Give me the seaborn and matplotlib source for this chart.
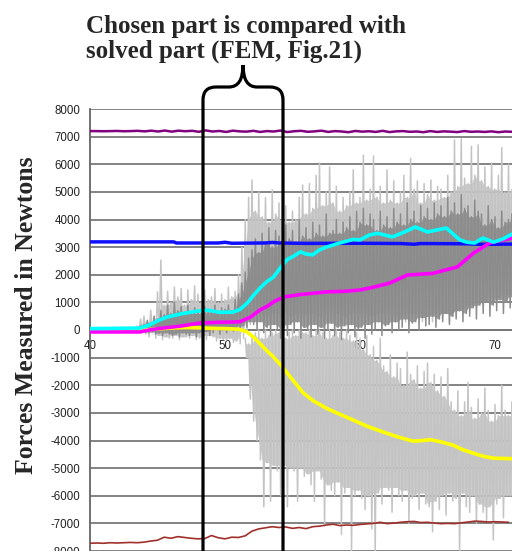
import numpy as np
import matplotlib
matplotlib.use('Agg')
import matplotlib.pyplot as plt
import matplotlib.transforms as mtransforms
from matplotlib.path import Path
from matplotlib.patches import PathPatch
import seaborn as sns

# ---- smooth / slow signals (x in the units of the horizontal axis) ----
purple_y = [7200, 7200, 7195, 7200, 7205, 7195, 7200, 7210, 7190, 7215, 7185, 7220,
            7180, 7215, 7195, 7210, 7175, 7225, 7185, 7205, 7170, 7215, 7190, 7180,
            7210, 7170, 7200, 7185, 7220, 7165, 7195, 7210, 7175, 7190, 7215, 7170,
            7200, 7185, 7160, 7205, 7180, 7195, 7170, 7210, 7165, 7190, 7200, 7175,
            7185, 7160, 7200, 7170, 7190, 7180, 7165, 7200, 7175, 7185, 7170, 7190,
            7160, 7185, 7175]

darkred_y = [-7720, -7710, -7720, -7700, -7710, -7700, -7690, -7700, -7680, -7640,
             -7610, -7500, -7540, -7480, -7510, -7540, -7560, -7550, -7440, -7520,
             -7560, -7500, -7510, -7450, -7280, -7200, -7160, -7120, -7150, -7130,
             -7180, -7150, -7190, -7120, -7100, -7060, -7030, -7080, -7060, -7070,
             -7040, -7020, -7000, -6960, -7010, -6990, -6960, -6940, -6930, -6970,
             -6960, -6990, -7010, -7000, -7010, -6980, -6950, -6920, -6930, -6950,
             -6940, -6950, -6960]

blue_x = [40, 46.2, 46.4, 49.5, 50.0, 50.5, 53.0, 53.5, 54.0, 56.0, 60.0, 63.0,
          64.0, 64.5, 68.0, 69.0, 71.3]
blue_y = [3190, 3190, 3150, 3150, 3175, 3140, 3150, 3170, 3150, 3135, 3140, 3130,
          3105, 3130, 3120, 3100, 3110]

cyan_x = [40, 43.7, 44.4, 45.0, 45.7, 46.9, 47.9, 48.7, 49.6, 50.6, 51.1, 51.7,
          52.1, 52.6, 53.1, 53.6, 54.1, 54.6, 55.0, 55.6, 56.0, 56.5, 57.0, 57.5,
          58.5, 59.5, 60.0, 60.7, 61.3, 62.4, 63.3, 64.1, 65.0, 66.4, 67.4, 67.9,
          68.5, 69.1, 69.9, 70.6, 71.3]
cyan_y = [50, 70, 180, 330, 470, 600, 680, 720, 640, 650, 740, 1000,
          1250, 1520, 1750, 1920, 2250, 2550, 2650, 2830, 2750, 2720, 2900, 3000,
          3150, 3280, 3260, 3440, 3500, 3370, 3550, 3730, 3550, 3690, 3260, 3180,
          3150, 3330, 3180, 3300, 3480]

magenta_x = [40, 43.7, 44.4, 45.2, 46.7, 48.1, 49.5, 50.6, 51.1, 51.9, 52.6, 53.1,
             53.7, 54.4, 55.5, 56.5, 57.5, 58.9, 60.0, 61.0, 62.2, 63.5, 65.4, 66.3,
             67.2, 68.4, 69.6, 70.5, 71.3]
magenta_y = [-70, -70, 0, 60, 140, 250, 280, 290, 300, 470, 730, 850,
             1050, 1200, 1280, 1330, 1380, 1400, 1450, 1550, 1700, 1990, 2050, 2170,
             2280, 2780, 3150, 3250, 3330]

yellow_x = [40, 44, 45, 46, 47, 48, 49, 50, 51, 51.6, 52.1, 52.6, 53.1, 53.6,
            54.1, 54.6, 55.0, 55.8, 56.5, 57.5, 58.5, 59.5, 60.5, 61.7, 62.8, 63.9,
            64.5, 65.2, 66.0, 66.9, 67.6, 68.4, 69.2, 69.9, 71.3]
yellow_y = [0, 0, 40, 70, 90, 80, 60, 50, 30, -60, -250, -500, -750, -980,
            -1250, -1550, -1800, -2280, -2550, -2830, -3050, -3260, -3480, -3690,
            -3870, -4020, -4010, -3970, -4050, -4170, -4330, -4460, -4580, -4640,
            -4660]

# ---- noisy grey signals: extremes read every 0.25 from x = 43.5 ----
dark_hi = [80, 150,
           200, 350, 250, 500,   400, 700, 550, 900,   600, 1000, 700, 850,
           650, 900, 600, 800,   700, 600, 850, 650,   700, 900, 650, 800,
           750, 900, 700, 1100,  1300, 1700, 2100, 2600, 2900, 3300, 2800, 3500,
           3200, 3700, 3000, 3600, 3400, 3100, 3800, 3300, 3600, 3200, 4000, 3400,
           3700, 3300, 3900, 3500, 3800, 3400, 4200, 3500, 3600, 4000, 3500, 3900,
           3700, 4100, 3600, 4300, 3900, 4400, 3800, 4200, 4000, 3600, 4300, 3800,
           4100, 3700, 4400, 3900, 4200, 3800, 4600, 4000, 4300, 3900, 4500, 4100,
           4400, 4000, 4600, 4200, 4500, 4100, 4800, 4300, 4600, 4200, 4900, 4400,
           4500, 4100, 4700, 4300, 4200, 3800, 4500, 4000, 4100, 3700, 4300, 3900,
           4000, 4200]
dark_lo = [-20, -50,
           -80, -100, -60, -150,  -120, -200, -100, -150, -200, -150, -250, -100,
           -150, -200, -100, -250, -100, -150, -50, -200,  -100, 50, -150, 0,
           -100, 50, -50, 100,    0, 150, 100, 300,      200, 0, 300, -100,
           100, -200, 200, 0,     -300, 100, -200, 200,  -100, 300, -300, 100,
           0, -250, 200, -150,    100, -300, 0, 250,     -200, 100, -350, 150,
           -100, 200, -250, 0,    100, -300, 200, -150,  0, 300, -200, 150,
           200, -100, 300, 0,     100, 400, -100, 250,   300, 0, 450, 150,
           200, 500, 100, 400,    300, 600, 200, 500,    400, 700, 300, 600,
           500, 800, 400, 900,    600, 1000, 500, 900,   700, 1100, 600, 1000,
           800, 1200]

light_up_hi = [150, 400,
               500, 300, 720, 400,    1380, 2530, 900, 1400,  1000, 1550, 1200, 1500,
               900, 1450, 1100, 1600, 1300, 1000, 1450, 1100, 1200, 1500, 1000, 1300,
               1100, 1550, 1200, 1400, 2000, 3000, 4000, 4800, 5430, 4300, 5000, 4100,
               4800, 3900, 5070, 4200, 4600, 4000, 4500, 3900, 4300, 4000, 4800, 5250,
               4200, 5300, 4400, 5600, 6050, 4500, 5000, 5900, 4600, 5200, 4300, 4800,
               4500, 5000, 5800, 4600, 4800, 6330, 4700, 5100, 6300, 4800, 5200, 4600,
               5800, 4700, 5400, 4600, 5000, 5600, 4800, 6220, 5100, 5400, 4600, 5300,
               4900, 5430, 4700, 5200, 5100, 4800, 5600, 5000, 6880, 5200, 6920, 5500,
               5300, 6650, 5600, 6700, 5400, 5900, 5200, 6050, 5100, 5600, 6600, 5000,
               6000, 5100]
light_up_lo = [-50, -100,
               -150, -250, -100, -300, -200, -350, -250, -300, -300, -200, -350, -250,
               -250, -300, -200, -350, -300, -250, -350, -200, -250, -400, -300, -350,
               -360, -300, -450, -400, -500, -300, 0, 200,     500, 300, 600, 400,
               500, 300, 600, 400,    400, 600, 300, 500,    500, 300, 600, 400,
               400, 600, 300, 500,    500, 300, 600, 400,    400, 600, 300, 500,
               500, 300, 600, 400,    400, 600, 300, 500,    500, 300, 600, 400,
               400, 600, 300, 500,    500, 300, 600, 400,    400, 600, 300, 500,
               500, 300, 600, 400,    400, 600, 300, 500,    500, 700, 600, 800,
               700, 900, 800, 1000,   900, 1100, 1000, 1200, 1000, 1200, 1100, 1300,
               1200, 1300]

# lower light band, read every 0.25 from x = 51.5
light_dn_hi = [-300, -500,
               -200, -100, 0, -300,   0, -200, -100, 0,      -100, 0, -300, -100,
               0, -200, 0, -100,      -100, 0, -200, 0,      0, -100, -300, 0,
               -200, 0, -100, -300,   0, -200, -400, -100,   -300, -700, -200, -900,
               -600, -1100, -300, -1300, -1500, -900, -1700, -1200,
               -1400, -2000, -800, -1600, -1800, -1300, -2100, -1500,
               -1200, -1900, -1600, -2200, -1700, -2400, -1400, -2600,
               -2900, -2200, -3100, -2600, -1900, -2800, -3200, -2500,
               -3000, -2100, -2900, -3300, -2700, -3100, -2000, -2900,
               -3100, -2600]
light_dn_lo = [-1000, -2500,
               -3300, -4000, -4700, -6400, -4800, -6200, -4900, -5100,
               -6000, -4900, -6400, -5000, -5100, -6200, -5000, -5300,
               -5200, -5600, -6200, -5100, -5400, -7100, -5600, -5800,
               -6000, -5500, -7400, -5900, -5700, -8000, -6000, -5800,
               -6100, -6500, -6000, -7200, -8000, -5900, -6300, -5700,
               -5800, -6600, -5700, -6000, -6200, -5800, -7000, -6100,
               -6000, -6500, -5900, -6300, -6400, -7300, -6200, -6500,
               -6000, -6700, -5900, -6200, -6100, -8000, -5900, -6400,
               -6600, -6000, -7000, -6300, -6600, -6900, -6400, -7600,
               -6300, -6100, -6800, -6000, -6000, -6300]

y_ticks = list(range(-8000, 8001, 1000))
x_ticks = [40, 50, 60, 70]
title_lines = ["Chosen part is compared with", "solved part (FEM, Fig.21)"]
y_label = "Forces Measured in Newtons"

W, H = 512, 551
X0, X1 = 40, 40 + 422 / 13.5

sns.set_style('white')
plt.rcParams['axes.unicode_minus'] = False
plt.rcParams['font.family'] = ['Liberation Sans', 'DejaVu Sans']


def noisy_band(ax, start, hi, lo, color, z):
    """Zigzag between read extremes, plus the dense core they always cover."""
    n = min(len(hi), len(lo))
    hi = np.asarray(hi[:n], dtype=float)
    lo = np.asarray(lo[:n], dtype=float)
    xg = start + 0.25 * np.arange(n)
    # the core: where neighbouring strokes overlap
    core_hi = np.minimum(hi, np.minimum(np.r_[hi[0], hi[:-1]], np.r_[hi[1:], hi[-1]]))
    core_lo = np.maximum(lo, np.maximum(np.r_[lo[0], lo[:-1]], np.r_[lo[1:], lo[-1]]))
    ax.fill_between(xg, core_lo, core_hi, where=core_hi > core_lo, color=color,
                    lw=0, zorder=z, alpha=0.85)
    xs = np.empty(2 * n)
    ys = np.empty(2 * n)
    xs[0::2] = xg
    xs[1::2] = xg + 0.125
    ys[0::2] = hi
    ys[1::2] = lo
    sns.lineplot(x=xs, y=ys, ax=ax, sort=False, estimator=None, color=color,
                 lw=1.1, zorder=z, legend=False)


fig = plt.figure(figsize=(W / 100, H / 100), dpi=100)
ax = fig.add_axes([90 / W, 0, 422 / W, 442 / H])

noisy_band(ax, 51.5, light_dn_hi, light_dn_lo, '#c4c4c4', 3)
noisy_band(ax, 43.5, light_up_hi, light_up_lo, '#c4c4c4', 3.1)
noisy_band(ax, 43.5, dark_hi, dark_lo, '#8c8c8c', 3.2)

sns.lineplot(x=np.linspace(40, 71.25, len(purple_y)), y=purple_y, ax=ax,
             color='#800080', lw=1.8, zorder=4, sort=False, estimator=None)
sns.lineplot(x=np.linspace(40, 71, len(darkred_y)), y=darkred_y, ax=ax,
             color='#a0302c', lw=1.2, zorder=4, sort=False, estimator=None)
sns.lineplot(x=blue_x, y=blue_y, ax=ax, color='#1010ff', lw=2.5, zorder=4,
             sort=False, estimator=None)
sns.lineplot(x=yellow_x, y=yellow_y, ax=ax, color='#ffff00', lw=2.6, zorder=4,
             sort=False, estimator=None)
sns.lineplot(x=magenta_x, y=magenta_y, ax=ax, color='#ff00ff', lw=2.6, zorder=4.1,
             sort=False, estimator=None)
sns.lineplot(x=cyan_x, y=cyan_y, ax=ax, color='#00ffff', lw=2.6, zorder=4.2,
             sort=False, estimator=None)

ax.set_xlim(X0, X1)
ax.set_ylim(-8000, 8000)
ax.set_yticks(y_ticks)
ax.set_yticklabels([str(v) for v in y_ticks])
ax.set_xticks(x_ticks)
ax.set_xticklabels([str(v) for v in x_ticks])
ax.set_xlabel('')
ax.set_ylabel('')
ax.set_axisbelow(True)
ax.yaxis.grid(True, color='#7a7a7a', lw=1.3)
ax.xaxis.grid(False)
for side in ['top', 'right']:
    ax.spines[side].set_visible(False)
ax.spines['left'].set_color('#666666')
ax.spines['left'].set_linewidth(1.3)
ax.spines['bottom'].set_position(('data', 0))
ax.spines['bottom'].set_color('#777777')
ax.spines['bottom'].set_linewidth(1.2)
ax.tick_params(axis='y', direction='out', length=4, width=1, color='#666666',
               labelsize=8.3, labelcolor='#222222', pad=3)
ax.tick_params(axis='x', direction='inout', length=6, width=1, color='#666666',
               labelsize=8.3, labelcolor='#222222', pad=4)
ax.patch.set_alpha(0)

# the bracket marking the chosen part, in pixel coordinates
verts = [(203, 560), (203, 100), (203, 87), (216, 87), (229, 87), (243, 87), (243, 65),
         (283, 560), (283, 100), (283, 87), (270, 87), (257, 87), (243, 87), (243, 65)]
codes = [Path.MOVETO, Path.LINETO, Path.CURVE3, Path.CURVE3, Path.LINETO,
         Path.CURVE3, Path.CURVE3] * 2
codes[7] = Path.MOVETO
px = mtransforms.Affine2D().scale(1 / W, -1 / H).translate(0, 1) + fig.transFigure
fig.add_artist(PathPatch(Path(verts, codes), transform=px, fill=False,
                         edgecolor='black', lw=2.3, zorder=10))

serif = ['Liberation Serif', 'DejaVu Serif']
fig.text(86 / W, 1 - 33 / H, title_lines[0], family=serif, weight='bold',
         fontsize=18, va='baseline', ha='left')
fig.text(86 / W, 1 - 58 / H, title_lines[1], family=serif, weight='bold',
         fontsize=18, va='baseline', ha='left')
fig.text(27 / W, 1 - 315 / H, y_label, family=serif, weight='bold', fontsize=18.5,
         rotation=90, va='center', ha='center')

fig.savefig('out.png', dpi=100)
